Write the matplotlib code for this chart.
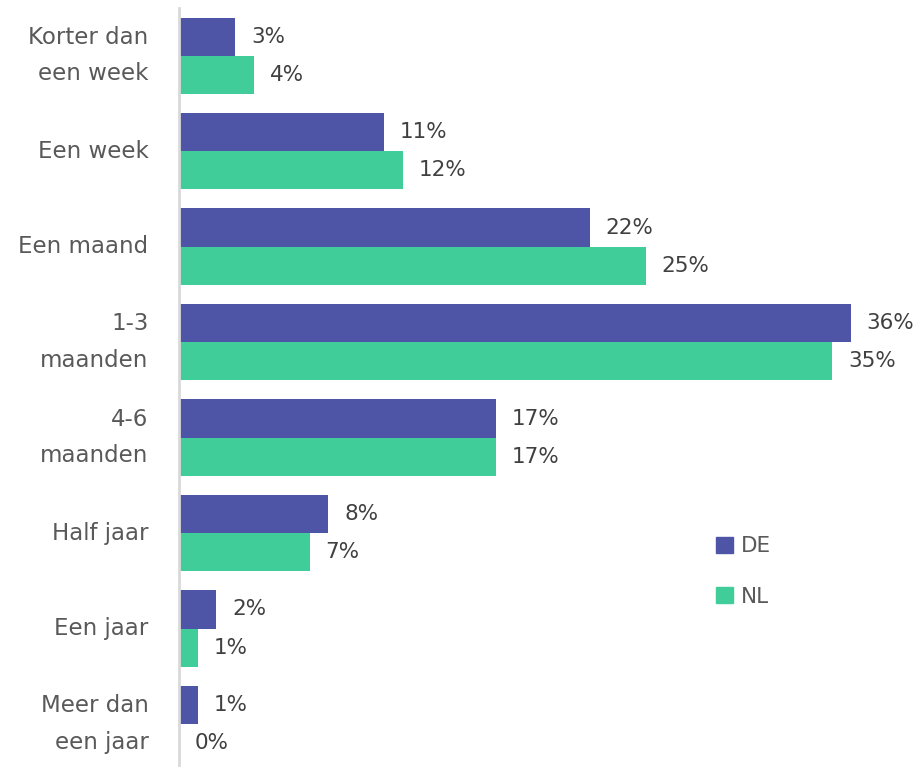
import numpy as np
import matplotlib.pyplot as plt
from matplotlib.patches import Patch

categories = ['Korter dan\neen week', 'Een week', 'Een maand', '1-3\nmaanden',
              '4-6\nmaanden', 'Half jaar', 'Een jaar', 'Meer dan\neen jaar']
de_values = [3, 11, 22, 36, 17, 8, 2, 1]
nl_values = [4, 12, 25, 35, 17, 7, 1, 0]

DE_COLOR = '#4E55A6'
NL_COLOR = '#40CD9A'
LABEL_COLOR = '#595959'
VALUE_COLOR = '#404040'

plt.rcParams['font.family'] = ['DejaVu Sans']

fig = plt.figure(figsize=(9.2, 7.67), dpi=100)
ax = fig.add_axes([179 / 920, 0, 1 - 179 / 920, 1 - 8 / 767])

y = np.arange(len(categories))
h = 0.4
ax.barh(y - h / 2, de_values, height=h, color=DE_COLOR, label='DE')
ax.barh(y + h / 2, nl_values, height=h, color=NL_COLOR, label='NL')

# percentage labels just past the end of each bar
for yi, v in zip(y - h / 2, de_values):
    ax.text(v + 0.85, yi, f'{v}%', va='center', ha='left', fontsize=15.5,
            color=VALUE_COLOR)
for yi, v in zip(y + h / 2, nl_values):
    ax.text(v + 0.85, yi, f'{v}%', va='center', ha='left', fontsize=15.5,
            color=VALUE_COLOR)

ax.set_xlim(0, 39.7)
ax.set_ylim(7.45, -0.5)
ax.set_yticks(y)
ax.set_yticklabels(categories, fontsize=16.5, color=LABEL_COLOR, linespacing=1.75)
for lbl in ax.get_yticklabels():
    lbl.set_verticalalignment('center')
ax.tick_params(axis='y', length=0, pad=22)
ax.set_xticks([])
for s in ['top', 'right', 'bottom']:
    ax.spines[s].set_visible(False)
ax.spines['left'].set_color('#d9d9d9')
ax.spines['left'].set_linewidth(2)

handles = [Patch(color=DE_COLOR, label='DE'), Patch(color=NL_COLOR, label='NL')]
fig.legend(handles=handles, loc='upper left', bbox_to_anchor=(697 / 920, 1 - 517 / 767),
           frameon=False, fontsize=15.5, handlelength=0.75, handleheight=0.75,
           handletextpad=0.4, labelspacing=1.4, labelcolor=LABEL_COLOR)

fig.savefig('out.png', dpi=100)
